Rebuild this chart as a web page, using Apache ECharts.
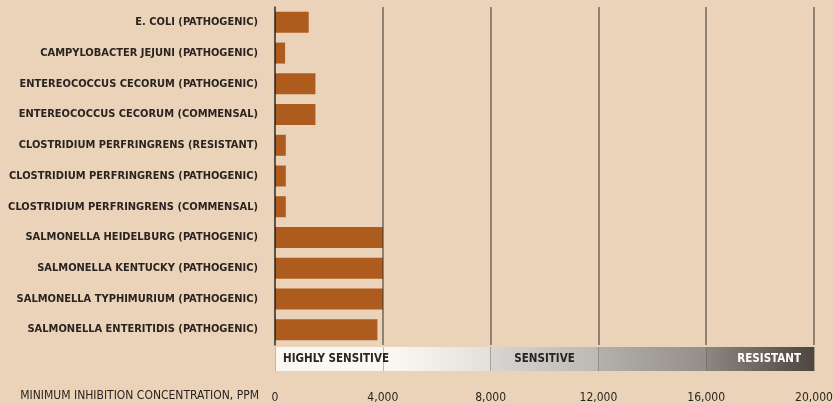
<!DOCTYPE html>
<html>
<head>
<meta charset="utf-8">
<script src="https://cdn.jsdelivr.net/npm/echarts@6/dist/echarts.min.js"></script>
<style>
  html, body { margin: 0; padding: 0; background: #ebd3b9; }
  #chart { width: 833px; height: 404px; }
</style>
</head>
<body>
<div id="chart"></div>
<script>
const categories = [
  'E. COLI (PATHOGENIC)',
  'CAMPYLOBACTER JEJUNI (PATHOGENIC)',
  'ENTEREOCOCCUS CECORUM (PATHOGENIC)',
  'ENTEREOCOCCUS CECORUM (COMMENSAL)',
  'CLOSTRIDIUM PERFRINGRENS (RESISTANT)',
  'CLOSTRIDIUM PERFRINGRENS (PATHOGENIC)',
  'CLOSTRIDIUM PERFRINGRENS (COMMENSAL)',
  'SALMONELLA HEIDELBURG (PATHOGENIC)',
  'SALMONELLA KENTUCKY (PATHOGENIC)',
  'SALMONELLA TYPHIMURIUM (PATHOGENIC)',
  'SALMONELLA ENTERITIDIS (PATHOGENIC)'
];
const values = [1250, 375, 1500, 1500, 400, 400, 400, 4000, 4000, 4000, 3800];
const axisMin = 0, axisMax = 20000, axisInterval = 4000;
const axisTitle = 'MINIMUM INHIBITION CONCENTRATION, PPM';
const zoneNames = ['HIGHLY SENSITIVE', 'SENSITIVE', '', 'RESISTANT'];
const zoneSpans = [8000, 4000, 4000, 4000];

const FONT = "'Liberation Sans Narrow', 'DejaVu Sans Condensed', 'Roboto', sans-serif";
const TXT = '#2a2420';

const zoneGradients = [
  ['#fbf7f2', '#fbf7f2', '#e3dfdb'],
  ['#d8d5d2', '#bcb8b4'],
  ['#b4b0ac', '#938e89'],
  ['#8d8782', '#4d453f']
];
const zoneLabelCfg = [
  { position: 'insideLeft', distance: 8, color: TXT },
  { position: 'inside', distance: 0, color: TXT },
  { position: 'inside', distance: 0, color: TXT },
  { position: 'insideRight', distance: 13, color: '#ffffff' }
];

function grad(stops) {
  let cs;
  if (stops.length === 3) cs = [{offset: 0, color: stops[0]}, {offset: 0.55, color: stops[1]}, {offset: 1, color: stops[2]}];
  else cs = [{offset: 0, color: stops[0]}, {offset: 1, color: stops[1]}];
  return new echarts.graphic.LinearGradient(0, 0, 1, 0, cs);
}

const zoneSeries = zoneNames.map((name, i) => ({
  type: 'bar',
  xAxisIndex: 1,
  yAxisIndex: 1,
  stack: 'zones',
  barWidth: '100%',
  silent: true,
  data: [zoneSpans[i]],
  itemStyle: { color: grad(zoneGradients[i]) },
  label: {
    show: name !== '',
    formatter: name,
    position: zoneLabelCfg[i].position,
    distance: zoneLabelCfg[i].distance,
    color: zoneLabelCfg[i].color,
    fontFamily: FONT,
    fontWeight: 'bold',
    fontSize: 11.5
  }
}));

const chart = echarts.init(document.getElementById('chart'), null, { renderer: 'canvas' });
chart.setOption({
  backgroundColor: '#ebd3b9',
  animation: false,
  title: {
    text: axisTitle,
    right: 574,
    top: 390,
    padding: 0,
    textStyle: { fontFamily: FONT, fontWeight: 'normal', fontSize: 12, color: TXT }
  },
  grid: [
    { left: 275, right: 19, top: 7, bottom: 59, containLabel: false, outerBoundsMode: 'none' },
    { left: 275, right: 19, top: 347, height: 24, containLabel: false, outerBoundsMode: 'none' }
  ],
  xAxis: [
    {
      gridIndex: 0, type: 'value', min: axisMin, max: axisMax, interval: axisInterval,
      z: 4,
      axisLabel: { show: false },
      axisLine: { show: false },
      axisTick: { show: false },
      splitLine: { show: true, lineStyle: { color: 'rgba(20,20,20,0.42)', width: 2 } }
    },
    {
      gridIndex: 1, type: 'value', min: axisMin, max: axisMax, interval: axisInterval,
      z: 4,
      axisLabel: {
        show: true, margin: 21, fontFamily: FONT, fontSize: 12, color: TXT,
        formatter: v => v.toLocaleString('en-US')
      },
      axisLine: { show: false },
      axisTick: { show: false },
      splitLine: { show: true, lineStyle: { color: 'rgba(40,40,40,0.3)', width: 1 } }
    }
  ],
  yAxis: [
    {
      gridIndex: 0, type: 'category', data: categories, inverse: true,
      z: 5,
      axisLine: { show: true, lineStyle: { color: 'rgba(20,20,20,0.42)', width: 2 } },
      axisTick: { show: false },
      axisLabel: { margin: 17, fontFamily: FONT, fontWeight: 'bold', fontSize: 11, color: TXT }
    },
    {
      gridIndex: 1, type: 'category', data: ['zone'],
      axisLine: { show: false }, axisTick: { show: false }, axisLabel: { show: false }
    }
  ],
  series: [
    {
      type: 'bar',
      xAxisIndex: 0,
      yAxisIndex: 0,
      data: values,
      barWidth: 21,
      itemStyle: { color: '#ad5c1e' },
      silent: true
    }
  ].concat(zoneSeries)
});
</script>
</body>
</html>
